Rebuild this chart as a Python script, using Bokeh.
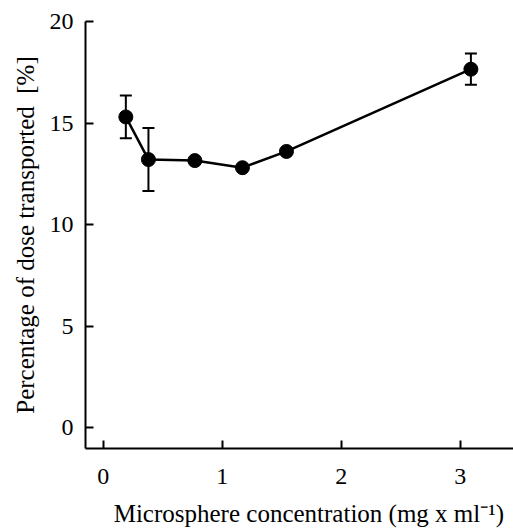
from bokeh.plotting import figure
from bokeh.models import ColumnDataSource, Whisker, TeeHead, Range1d, FixedTicker
from bokeh.embed import file_html
from bokeh.resources import INLINE

# Data
concentration = [0.19, 0.38, 0.77, 1.17, 1.54, 3.09]
percent = [15.3, 13.2, 13.15, 12.8, 13.6, 17.65]
err = [1.05, 1.55, 0.0, 0.0, 0.0, 0.77]
x_ticks = [0, 1, 2, 3]
y_ticks = [0, 5, 10, 15, 20]

upper = [p + e for p, e in zip(percent, err)]
lower = [p - e for p, e in zip(percent, err)]
src = ColumnDataSource(dict(x=concentration, y=percent, upper=upper, lower=lower))
err_src = ColumnDataSource(dict(
    x=[c for c, e in zip(concentration, err) if e > 0],
    upper=[u for u, e in zip(upper, err) if e > 0],
    lower=[l for l, e in zip(lower, err) if e > 0],
))

FONT = "Liberation Serif"

p = figure(width=513, height=529, output_backend="svg", toolbar_location=None,
           x_range=Range1d(-0.149, 3.448), y_range=Range1d(-1.03, 20.0),
           min_border_left=85, min_border_right=0, min_border_top=21, min_border_bottom=81)
p.outline_line_color = None
p.xgrid.visible = False
p.ygrid.visible = False

p.add_layout(Whisker(base="x", upper="upper", lower="lower", source=err_src, dimension="height",
                     line_width=2, line_color="black",
                     upper_head=TeeHead(size=12, line_width=2, line_color="black"),
                     lower_head=TeeHead(size=12, line_width=2, line_color="black")))
p.line("x", "y", source=src, line_width=2.5, line_color="black")
p.scatter("x", "y", source=src, size=14, fill_color="black", line_color="black")

p.xaxis.ticker = FixedTicker(ticks=x_ticks)
p.yaxis.ticker = FixedTicker(ticks=y_ticks)
p.xaxis.axis_label = "\u00a0\u00a0\u00a0Microsphere concentration (mg x ml\u207b\u00b9)"
p.yaxis.axis_label = "Percentage of dose transported\u00a0 [%]"

p.axis.axis_line_width = 2
p.axis.axis_line_color = "black"
p.axis.major_tick_line_width = 2
p.axis.major_tick_line_color = "black"
p.axis.major_tick_in = 8
p.axis.major_tick_out = 0
p.axis.minor_tick_line_color = None
p.axis.major_label_text_font = FONT
p.axis.major_label_text_font_size = "24px"
p.axis.major_label_text_font_style = "normal"
p.axis.major_label_text_color = "black"
p.axis.axis_label_text_font = FONT
p.axis.axis_label_text_font_size = "25px"
p.axis.axis_label_text_font_style = "normal"
p.axis.axis_label_text_color = "black"

p.xaxis.major_label_standoff = 20
p.yaxis.major_label_standoff = 12
p.xaxis.axis_label_standoff = 13
p.yaxis.axis_label_standoff = 8

open("out.html", "w").write(file_html(p, INLINE))
